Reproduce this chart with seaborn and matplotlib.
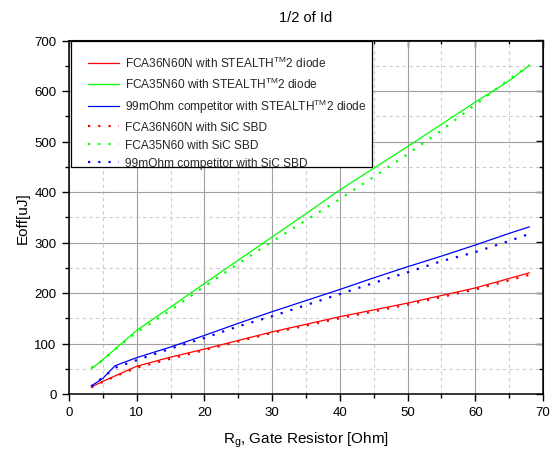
import numpy as np
import pandas as pd
import matplotlib
matplotlib.use("Agg")
import matplotlib.pyplot as plt
import seaborn as sns
from matplotlib.ticker import MultipleLocator
from matplotlib.patches import Rectangle

# ---- data ----
rg_red = [3.3, 5, 7, 10, 15, 20, 25, 30, 40, 50, 60, 68]
red_stealth = [14, 25, 37, 55, 73, 89, 106, 123, 153, 180, 210, 240]
red_sic = [13, 24, 36, 52, 70, 87, 104, 121, 150, 177, 207, 236]

rg_green = [3.3, 5, 7.5, 10, 15, 20, 25, 30, 35, 40, 45, 50, 55, 60, 65, 68]
green_stealth = [50, 68, 97, 126, 172, 219, 265, 311, 357, 404, 447, 490, 534, 578, 620, 651]
green_sic = [52, 67, 96, 122, 166, 213, 258, 302, 344, 386, 430, 475, 522, 573, 623, 651]

rg_blue = [3.3, 5, 6.8, 10, 15, 20, 25, 30, 35, 40, 45, 50, 55, 60, 65, 68]
blue_stealth = [16, 31, 56, 72, 93, 116, 140, 163, 185, 207, 230, 252, 273, 295, 318, 331]
blue_sic = [15, 33, 52, 67, 90, 111, 134, 154, 176, 198, 220, 241, 263, 281, 303, 317]

labels = [
    r"FCA36N60N with STEALTH$^{TM}$2 diode",
    r"FCA35N60 with STEALTH$^{TM}$2 diode",
    r"99mOhm competitor with STEALTH$^{TM}$2 diode",
    "FCA36N60N with SiC SBD",
    "FCA35N60 with SiC SBD",
    "99mOhm competitor with SiC SBD",
]
title = "1/2 of Id"
xlabel = r"R$_{g}$, Gate Resistor [Ohm]"
ylabel = "Eoff[uJ]"

series = [
    (rg_red, red_stealth, labels[0], "#ff0000", "-"),
    (rg_green, green_stealth, labels[1], "#00ff00", "-"),
    (rg_blue, blue_stealth, labels[2], "#0000ff", "-"),
    (rg_red, red_sic, labels[3], "#ff0000", ":"),
    (rg_green, green_sic, labels[4], "#00ff00", ":"),
    (rg_blue, blue_sic, labels[5], "#0000ff", ":"),
]

sns.set_style("white")
plt.rcParams["font.family"] = ["Liberation Sans", "DejaVu Sans"]
plt.rcParams["mathtext.fontset"] = "custom"
plt.rcParams["mathtext.rm"] = "Liberation Sans"
plt.rcParams["mathtext.it"] = "Liberation Sans"
plt.rcParams["mathtext.default"] = "regular"

W, H = 550, 456
AX_L, AX_R, AX_T, AX_B = 69, 543, 41.5, 395
fig = plt.figure(figsize=(W / 100, H / 100), dpi=100)
ax = fig.add_axes([AX_L / W, 1 - AX_B / H, (AX_R - AX_L) / W, (AX_B - AX_T) / H])


def axfrac(px, py):
    return (px - AX_L) / (AX_R - AX_L), (AX_B - py) / (AX_B - AX_T)


for xs, ys, lab, col, ls in series:
    df = pd.DataFrame({"x": xs, "y": ys})
    if ls == "-":
        sns.lineplot(data=df, x="x", y="y", ax=ax, color=col, lw=0.9,
                     label=lab, sort=False)
    else:
        sns.lineplot(data=df, x="x", y="y", ax=ax, color=col, lw=1.6,
                     label=lab, sort=False)
        ax.lines[-1].set_linestyle((0, (1, 3.6)))

ax.set_xlim(0, 70)
ax.set_ylim(0, 700)
ax.xaxis.set_major_locator(MultipleLocator(10))
ax.xaxis.set_minor_locator(MultipleLocator(5))
ax.yaxis.set_major_locator(MultipleLocator(100))
ax.yaxis.set_minor_locator(MultipleLocator(50))
ax.grid(which="major", color="#a0a0a0", lw=0.8, ls="-")
ax.grid(which="minor", color="#cccccc", lw=0.8, ls=(0, (3, 3)))
ax.set_axisbelow(True)

ax.tick_params(which="major", direction="out", length=5, width=1, labelsize=9.5,
               bottom=True, left=True, color="black", labelcolor="black", pad=4)
ax.tick_params(which="minor", direction="out", length=3, width=1,
               bottom=True, left=True, color="black")
for s in ax.spines.values():
    s.set_color("black")
    s.set_linewidth(1.1)

secx = ax.secondary_xaxis("top")
secx.xaxis.set_major_locator(MultipleLocator(10))
secx.xaxis.set_minor_locator(MultipleLocator(5))
secx.tick_params(which="both", direction="in", labeltop=False, color="black", width=1)
secx.tick_params(which="major", length=5)
secx.tick_params(which="minor", length=3)
secy = ax.secondary_yaxis("right")
secy.yaxis.set_major_locator(MultipleLocator(100))
secy.yaxis.set_minor_locator(MultipleLocator(50))
secy.tick_params(which="both", direction="in", labelright=False, color="black", width=1)
secy.tick_params(which="major", length=5)
secy.tick_params(which="minor", length=3)

ax.set_title(title, fontsize=10.5, pad=14, color="black")
ax.set_xlabel(xlabel, fontsize=11, labelpad=8, color="black")
ax.set_ylabel(ylabel, fontsize=11, labelpad=3, color="black")

# legend frame (asymmetric padding as in the reference)
fx0, fy0 = axfrac(71, 168)
fx1, fy1 = axfrac(372, 42)
ax.add_patch(Rectangle((fx0, fy0), fx1 - fx0, fy1 - fy0, transform=ax.transAxes,
                       facecolor="white", edgecolor="black", lw=0.9, zorder=4))
lx, ly = axfrac(88, 55.5)
leg = ax.legend(loc="upper left", bbox_to_anchor=(lx, ly), borderaxespad=0,
                fontsize=8.6, frameon=False, handlelength=2.6, handletextpad=0.5,
                labelspacing=0.5, borderpad=0)
leg.set_zorder(5)

fig.savefig("out.png", dpi=100)
